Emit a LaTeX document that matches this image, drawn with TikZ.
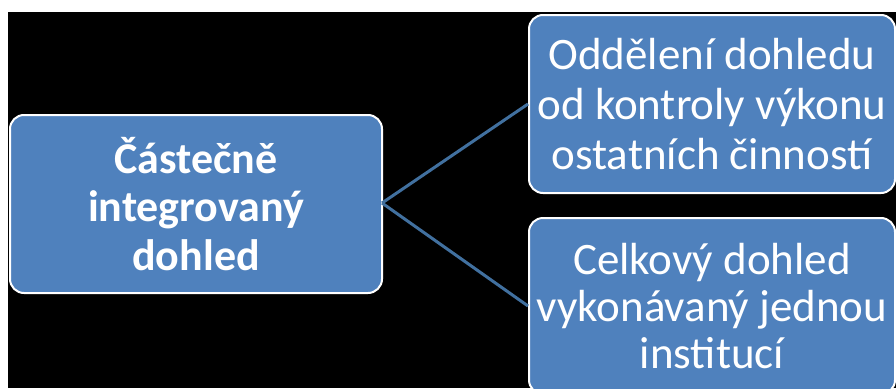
\documentclass[tikz,border=0pt]{standalone}
\usepackage{fontspec}
\setmainfont{Carlito}
\definecolor{boxblue}{HTML}{4F81BD}
\definecolor{linkblue}{HTML}{41709F}
\begin{document}
\begin{tikzpicture}[x=1pt,y=-1pt,
  box/.style={draw=white,line width=2pt,fill=boxblue,rounded corners=14pt,
    text=white,align=center,inner sep=0pt,anchor=north west},
  link/.style={draw=linkblue,line width=3pt}]
\useasboundingbox (0,0) rectangle (896,388);
\fill[white] (0,0) rectangle (896,388);
\fill[black] (8,12) rectangle (896,388);
\begin{scope}
\clip (0,0) rectangle (896,388);
\node[box,minimum width=372pt,minimum height=178pt,font=\fontsize{44}{48.5}\selectfont\bfseries]
  (L) at (9,114) {Částečně\\integrovaný\\dohled};
\node[box,minimum width=366pt,minimum height=178pt,font=\fontsize{45}{50}\selectfont]
  (T) at (528,14) {Oddělení dohledu\\od kontroly výkonu\\ostatních činností};
\node[box,minimum width=366pt,minimum height=176pt,font=\fontsize{45}{47}\selectfont]
  (B) at (528,217) {Celkový dohled\\vykonávaný jednou\\institucí};
\coordinate (F) at (382,203);
\draw[link] (F) -- (T.west);
\draw[link] (F) -- (B.west);
\end{scope}
\end{tikzpicture}
\end{document}
